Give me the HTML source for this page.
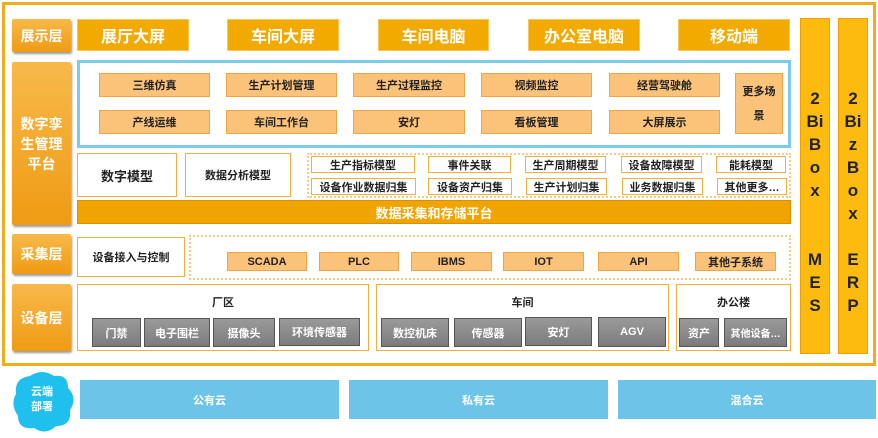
<!DOCTYPE html><html><head><meta charset="utf-8"><style>
*{box-sizing:border-box;margin:0;padding:0}
body{width:878px;height:438px;background:#fff;position:relative;overflow:hidden;font-family:"Liberation Sans","Noto Sans CJK SC",sans-serif;font-weight:bold}
div{position:absolute;display:flex;align-items:center;justify-content:center;text-align:center}
.lab{background:linear-gradient(#f7b94a,#ef9b14);color:#fff;font-size:14px;box-shadow:1px 2px 2px #999;border-radius:2px}
.top{background:#f2a900;color:#fff;font-size:16px;border:1px solid #f6c65a}
.lo{background:#fbc27a;border:1px solid #f0a640;color:#222;font-size:11px}
.wh{background:#fff;border:1px solid #f0b040;color:#222;font-size:11px}
.gr{background:linear-gradient(#9a9a9a,#7c7c7c);border:1px solid #555;color:#fff;font-size:11px}
.side{background:#fdbb10;border:1px solid #f0a000;color:#222;font-size:17px;line-height:23px;flex-direction:column;justify-content:flex-start;padding-top:68px}
.cl{background:#6cc5e8;color:#fff;font-size:11px}
.dot{border:2px dotted #f5cc80;background:#fff}
</style></head><body>
<div style="left:2px;top:2px;width:874px;height:364px;border:3px solid #f2ad1c"></div>
<div class="lab" style="left:12px;top:19px;width:59px;height:33px">展示层</div>
<div class="lab" style="left:12px;top:62px;width:59px;height:163px;line-height:20px">数字孪<br>生管理<br>平台</div>
<div class="lab" style="left:12px;top:234px;width:59px;height:40px">采集层</div>
<div class="lab" style="left:12px;top:284px;width:59px;height:67px">设备层</div>
<div class="top" style="left:77px;top:19px;width:112px;height:32px">展厅大屏</div>
<div class="top" style="left:227px;top:19px;width:112px;height:32px">车间大屏</div>
<div class="top" style="left:378px;top:19px;width:111px;height:32px">车间电脑</div>
<div class="top" style="left:528px;top:19px;width:112px;height:32px">办公室电脑</div>
<div class="top" style="left:678px;top:19px;width:112px;height:32px">移动端</div>
<div style="left:77px;top:60px;width:714px;height:88px;border:3px solid #7ccbea"></div>
<div class="lo" style="left:99px;top:73px;width:111px;height:24px">三维仿真</div>
<div class="lo" style="left:226px;top:73px;width:111px;height:24px">生产计划管理</div>
<div class="lo" style="left:353px;top:73px;width:112px;height:24px">生产过程监控</div>
<div class="lo" style="left:481px;top:73px;width:111px;height:24px">视频监控</div>
<div class="lo" style="left:609px;top:73px;width:111px;height:24px">经营驾驶舱</div>
<div class="lo" style="left:99px;top:110px;width:111px;height:24px">产线运维</div>
<div class="lo" style="left:226px;top:110px;width:111px;height:24px">车间工作台</div>
<div class="lo" style="left:353px;top:110px;width:112px;height:24px">安灯</div>
<div class="lo" style="left:481px;top:110px;width:111px;height:24px">看板管理</div>
<div class="lo" style="left:609px;top:110px;width:111px;height:24px">大屏展示</div>
<div class="lo" style="left:735px;top:73px;width:48px;height:61px;line-height:24px">更多场<br>景</div>
<div class="wh" style="left:77px;top:153px;width:100px;height:44px;font-size:13px">数字模型</div>
<div class="wh" style="left:185px;top:153px;width:106px;height:44px">数据分析模型</div>
<div class="dot" style="left:307px;top:153px;width:484px;height:45px"></div>
<div class="wh" style="left:311px;top:156px;width:104px;height:17px">生产指标模型</div>
<div class="wh" style="left:428px;top:156px;width:83px;height:17px">事件关联</div>
<div class="wh" style="left:525px;top:156px;width:81px;height:17px">生产周期模型</div>
<div class="wh" style="left:621px;top:156px;width:81px;height:17px">设备故障模型</div>
<div class="wh" style="left:716px;top:156px;width:70px;height:17px">能耗模型</div>
<div class="wh" style="left:311px;top:178px;width:105px;height:17px">设备作业数据归集</div>
<div class="wh" style="left:428px;top:178px;width:84px;height:17px">设备资产归集</div>
<div class="wh" style="left:526px;top:178px;width:81px;height:17px">生产计划归集</div>
<div class="wh" style="left:622px;top:178px;width:81px;height:17px">业务数据归集</div>
<div class="wh" style="left:717px;top:178px;width:70px;height:17px">其他更多…</div>
<div style="left:77px;top:200px;width:714px;height:24px;background:#f0a400;border:1px solid #d99000;color:#fff;font-size:13px">数据采集和存储平台</div>
<div class="side" style="left:800px;top:18px;width:30px;height:336px">2<br>Bi<br>B<br>o<br>x<br><br><br>M<br>E<br>S</div>
<div class="side" style="left:838px;top:18px;width:30px;height:336px">2<br>Bi<br>z<br>B<br>o<br>x<br><br>E<br>R<br>P</div>
<div class="wh" style="left:77px;top:237px;width:108px;height:40px">设备接入与控制</div>
<div class="dot" style="left:189px;top:235px;width:602px;height:45px"></div>
<div class="lo" style="left:227px;top:252px;width:80px;height:19px">SCADA</div>
<div class="lo" style="left:319px;top:252px;width:80px;height:19px">PLC</div>
<div class="lo" style="left:411px;top:252px;width:81px;height:19px">IBMS</div>
<div class="lo" style="left:503px;top:252px;width:81px;height:19px">IOT</div>
<div class="lo" style="left:598px;top:252px;width:81px;height:19px">API</div>
<div class="lo" style="left:695px;top:252px;width:81px;height:19px">其他子系统</div>
<div class="wh" style="left:77px;top:284px;width:292px;height:67px;align-items:flex-start;padding-top:9px">厂区</div>
<div class="wh" style="left:376px;top:284px;width:293px;height:67px;align-items:flex-start;padding-top:9px">车间</div>
<div class="wh" style="left:676px;top:284px;width:115px;height:67px;align-items:flex-start;padding-top:9px">办公楼</div>
<div class="gr" style="left:92px;top:318px;width:49px;height:29px">门禁</div>
<div class="gr" style="left:144px;top:318px;width:66px;height:29px">电子围栏</div>
<div class="gr" style="left:213px;top:318px;width:62px;height:29px">摄像头</div>
<div class="gr" style="left:279px;top:318px;width:81px;height:28px">环境传感器</div>
<div class="gr" style="left:381px;top:318px;width:68px;height:29px">数控机床</div>
<div class="gr" style="left:454px;top:318px;width:68px;height:29px">传感器</div>
<div class="gr" style="left:525px;top:317px;width:67px;height:29px">安灯</div>
<div class="gr" style="left:598px;top:317px;width:68px;height:30px">AGV</div>
<div class="gr" style="left:679px;top:318px;width:40px;height:29px">资产</div>
<div class="gr" style="left:724px;top:318px;width:63px;height:29px;font-size:10px">其他设备…</div>
<svg style="position:absolute;left:10px;top:368px" width="66" height="68"><path d="M20 8 Q32 0 44 8 Q58 6 58 20 Q68 30 60 42 Q62 58 46 58 Q36 68 24 60 Q8 62 8 48 Q0 36 6 26 Q4 10 20 8Z" fill="#1fc0ee"/></svg>
<div style="left:12px;top:378px;width:60px;height:44px;color:#fff;font-size:11px;line-height:15px">云端<br>部署</div>
<div class="cl" style="left:80px;top:380px;width:259px;height:39px">公有云</div>
<div class="cl" style="left:349px;top:380px;width:259px;height:39px">私有云</div>
<div class="cl" style="left:618px;top:380px;width:258px;height:39px">混合云</div>
</body></html>
